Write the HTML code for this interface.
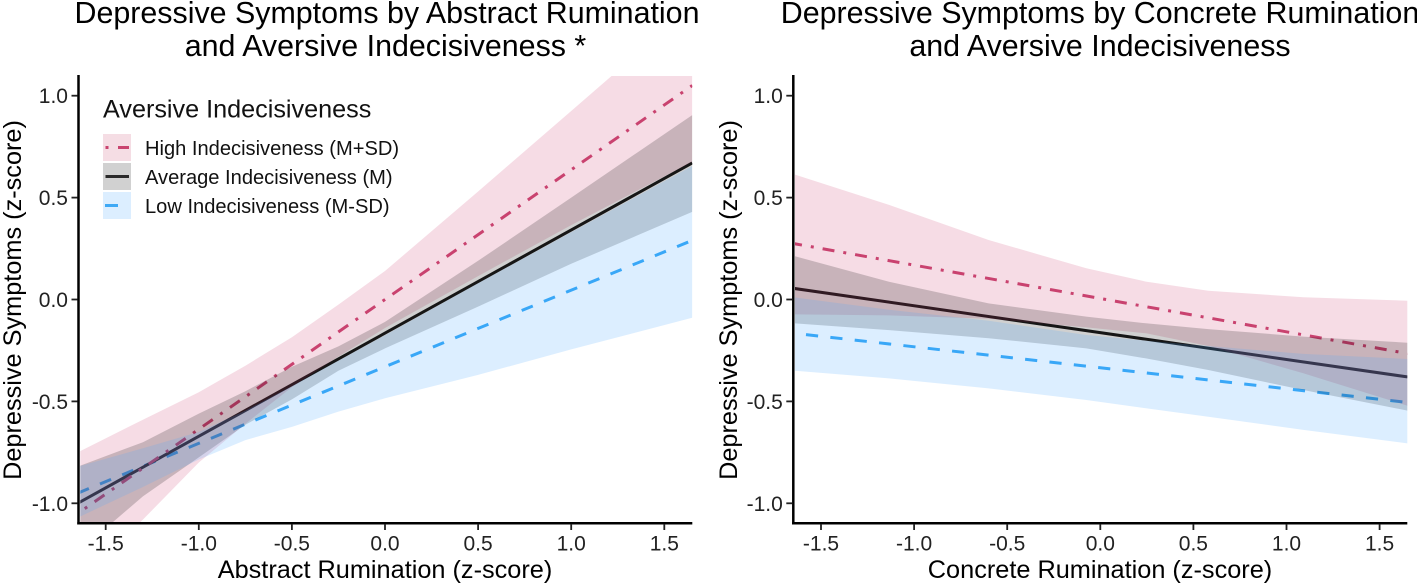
<!DOCTYPE html>
<html>
<head>
<meta charset="utf-8">
<title>Depressive Symptoms by Rumination and Aversive Indecisiveness</title>
<style>
html,body{margin:0;padding:0;background:#fff;width:1417px;height:585px;overflow:hidden}
svg{display:block}
text{font-family:"Liberation Sans",Arial,sans-serif}
.title{font-size:30.4px;fill:#000;text-anchor:middle}
.axt{font-size:25.3px;fill:#000;text-anchor:middle}
.tick{font-size:21px;fill:#222}
.leg{font-size:20.1px;fill:#111}
</style>
</head>
<body>
<svg id="figure" width="1417" height="585" viewBox="0 0 1417 585" xmlns="http://www.w3.org/2000/svg">
  <defs>
    <clipPath id="clip-left"><rect x="80.3" y="76" width="612" height="447"/></clipPath>
    <clipPath id="clip-right"><rect x="795" y="76" width="612.3" height="447"/></clipPath>
  </defs>
  <text class="title" x="387" y="23">Depressive Symptoms by Abstract Rumination</text>
  <text class="title" x="385.5" y="56">and Aversive Indecisiveness *</text>
  <text class="title" x="1100" y="23">Depressive Symptoms by Concrete Rumination</text>
  <text class="title" x="1100" y="56">and Aversive Indecisiveness</text>
  <g id="left-panel"></g>
  <g id="right-panel"></g>
  <text class="axt" x="385" y="578">Abstract Rumination (z-score)</text>
  <text class="axt" x="1100" y="578">Concrete Rumination (z-score)</text>
  <text class="axt" transform="translate(21,300) rotate(-90)">Depressive Symptoms (z-score)</text>
  <text class="axt" transform="translate(737,300) rotate(-90)">Depressive Symptoms (z-score)</text>
  <g>
    <text x="103" y="117.5" style="font-size:25.2px;fill:#111">Aversive Indecisiveness</text>
    <rect x="103" y="134" width="28" height="27" fill="#f5dde4"/>
    <rect x="103" y="163" width="28" height="27" fill="#d1d1d1"/>
    <rect x="103" y="192" width="28" height="27" fill="#dceeff"/>
    <line x1="105.5" x2="108.5" y1="147.5" y2="147.5" stroke="#c9446f" stroke-width="3"/>
    <line x1="118" x2="129" y1="147.5" y2="147.5" stroke="#c9446f" stroke-width="3"/>
    <line x1="105.5" x2="129" y1="176.5" y2="176.5" stroke="#2a2a2a" stroke-width="3"/>
    <line x1="105" x2="118" y1="205.5" y2="205.5" stroke="#3fa9f5" stroke-width="3"/>
    <text class="leg" x="145" y="155">High Indecisiveness (M+SD)</text>
    <text class="leg" x="145" y="184">Average Indecisiveness (M)</text>
    <text class="leg" x="145" y="213">Low Indecisiveness (M-SD)</text>
  </g>
</svg>
<script>
// Shared axis values
const xTicks = ["-1.5", "-1.0", "-0.5", "0.0", "0.5", "1.0", "1.5"];
const yTicks = ["-1.0", "-0.5", "0.0", "0.5", "1.0"];
const lineX = [-1.65, 1.65];

// Abstract rumination panel
const abstractBandX = [-1.65, -1.3, -1, -0.75, -0.5, -0.25, 0, 0.5, 1, 1.65];
const abstractHighLine = [-1.05, 1.05];
const abstractAverageLine = [-1.0, 0.67];
const abstractLowLine = [-0.95, 0.29];
const abstractHighUpper = [-0.75, -0.59, -0.455, -0.325, -0.185, -0.025, 0.14, 0.53, 0.925, 1.44];
const abstractHighLower = [-1.38, -1.08, -0.80, -0.61, -0.43, -0.28, -0.14, 0.115, 0.365, 0.675];
const abstractAverageUpper = [-0.82, -0.70, -0.56, -0.45, -0.33, -0.23, -0.11, 0.19, 0.50, 0.905];
const abstractAverageLower = [-1.24, -0.966, -0.775, -0.615, -0.49, -0.35, -0.24, -0.035, 0.175, 0.43];
const abstractLowUpper = [-0.82, -0.73, -0.65, -0.545, -0.425, -0.30, -0.175, 0.08, 0.33, 0.655];
const abstractLowLower = [-1.07, -0.92, -0.785, -0.69, -0.625, -0.55, -0.485, -0.37, -0.245, -0.09];

// Concrete rumination panel
const concreteBandX = [-1.65, -1.135, -0.6, -0.075, 0.245, 0.58, 1.09, 1.65];
const concreteHighLine = [0.275, -0.265];
const concreteAverageLine = [0.055, -0.38];
const concreteLowLine = [-0.165, -0.505];
const concreteHighUpper = [0.616, 0.464, 0.292, 0.153, 0.088, 0.043, 0.011, -0.006];
const concreteHighLower = [-0.073, -0.078, -0.094, -0.137, -0.166, -0.228, -0.362, -0.521];
const concreteAverageUpper = [0.215, 0.087, -0.019, -0.084, -0.117, -0.145, -0.182, -0.212];
const concreteAverageLower = [-0.117, -0.150, -0.19, -0.24, -0.289, -0.346, -0.444, -0.545];
const concreteLowUpper = [0.011, -0.05, -0.104, -0.174, -0.202, -0.228, -0.267, -0.292];
const concreteLowLower = [-0.349, -0.387, -0.436, -0.493, -0.534, -0.575, -0.64, -0.706];

const NS = 'http://www.w3.org/2000/svg';
const yScale = v => 299.5 - v * 203.8;

function drawPanel(root, x0, axisX, axisEnd, clipId, prefix, bandX, lines, bands) {
  const xScale = v => x0 + v * 186.2;

  const lineLayer = document.createElementNS(NS, 'g');
  lineLayer.setAttribute('clip-path', 'url(#' + clipId + ')');
  
  
  root.appendChild(lineLayer);
  lines.forEach(s => {
    const el = document.createElementNS(NS, 'line');
    el.setAttribute('x1', xScale(lineX[0]));
    el.setAttribute('x2', xScale(lineX[1]));
    el.setAttribute('y1', yScale(s.values[0]));
    el.setAttribute('y2', yScale(s.values[1]));
    el.setAttribute('stroke', s.color);
    el.setAttribute('stroke-width', '3');
    if (s.dash) {
      el.setAttribute('stroke-dasharray', s.dash);
      el.setAttribute('stroke-dashoffset', s.offset);
    }
    
    
    lineLayer.appendChild(el);
  });

  const bandLayer = document.createElementNS(NS, 'g');
  bandLayer.setAttribute('clip-path', 'url(#' + clipId + ')');
  
  
  root.appendChild(bandLayer);
  bands.forEach(b => {
    const upper = bandX.map((x, i) => xScale(x).toFixed(1) + ',' + yScale(b.upper[i]).toFixed(1));
    const lower = bandX.map((x, i) => xScale(x).toFixed(1) + ',' + yScale(b.lower[i]).toFixed(1)).reverse();
    const el = document.createElementNS(NS, 'polygon');
    el.setAttribute('points', upper.concat(lower).join(' '));
    el.setAttribute('fill', b.fill);
    
    
    bandLayer.appendChild(el);
  });

  const axisY = document.createElementNS(NS, 'line');
  axisY.setAttribute('x1', axisX);
  axisY.setAttribute('x2', axisX);
  axisY.setAttribute('y1', 75);
  axisY.setAttribute('y2', 524.5);
  axisY.setAttribute('stroke', '#000');
  axisY.setAttribute('stroke-width', '2.5');
  
  
  root.appendChild(axisY);

  const axisB = document.createElementNS(NS, 'line');
  axisB.setAttribute('x1', axisX - 1.2);
  axisB.setAttribute('x2', axisEnd);
  axisB.setAttribute('y1', 523.3);
  axisB.setAttribute('y2', 523.3);
  axisB.setAttribute('stroke', '#000');
  axisB.setAttribute('stroke-width', '2.5');
  
  
  root.appendChild(axisB);

  xTicks.forEach(t => {
    const px = xScale(parseFloat(t));
    const mark = document.createElementNS(NS, 'line');
    mark.setAttribute('x1', px);
    mark.setAttribute('x2', px);
    mark.setAttribute('y1', 524);
    mark.setAttribute('y2', 530);
    mark.setAttribute('stroke', '#222');
    mark.setAttribute('stroke-width', '1.8');
    
    
    root.appendChild(mark);
    const label = document.createElementNS(NS, 'text');
    label.setAttribute('class', 'tick');
    label.setAttribute('x', px);
    label.setAttribute('y', 550.5);
    label.setAttribute('text-anchor', 'middle');
    
    
    label.textContent = t;
    root.appendChild(label);
  });

  yTicks.forEach(t => {
    const py = yScale(parseFloat(t));
    const mark = document.createElementNS(NS, 'line');
    mark.setAttribute('x1', axisX - 7);
    mark.setAttribute('x2', axisX - 1);
    mark.setAttribute('y1', py);
    mark.setAttribute('y2', py);
    mark.setAttribute('stroke', '#222');
    mark.setAttribute('stroke-width', '1.8');
    
    
    root.appendChild(mark);
    const label = document.createElementNS(NS, 'text');
    label.setAttribute('class', 'tick');
    label.setAttribute('x', axisX - 10.5);
    label.setAttribute('y', py + 7.5);
    label.setAttribute('text-anchor', 'end');
    
    
    label.textContent = t;
    root.appendChild(label);
  });
}

const PINK_LINE = '#c8446f', GREY_LINE = '#1c1c1c', BLUE_LINE = '#34a7f6';
const PINK_FILL = 'rgba(204,60,110,0.18)', GREY_FILL = 'rgba(0,0,0,0.185)', BLUE_FILL = 'rgba(80,170,255,0.2)';

drawPanel(document.getElementById('left-panel'), 385, 78.5, 692.3, 'clip-left', 'abstract', abstractBandX,
  [
    {name: 'low', values: abstractLowLine, color: BLUE_LINE, dash: '12 12', offset: 0},
    {name: 'average', values: abstractAverageLine, color: GREY_LINE},
    {name: 'high', values: abstractHighLine, color: PINK_LINE, dash: '12 9 3 9', offset: 12.5}
  ],
  [
    {name: 'high', upper: abstractHighUpper, lower: abstractHighLower, fill: PINK_FILL},
    {name: 'average', upper: abstractAverageUpper, lower: abstractAverageLower, fill: GREY_FILL},
    {name: 'low', upper: abstractLowUpper, lower: abstractLowLower, fill: BLUE_FILL}
  ]);

drawPanel(document.getElementById('right-panel'), 1100.3, 793.3, 1407.3, 'clip-right', 'concrete', concreteBandX,
  [
    {name: 'low', values: concreteLowLine, color: BLUE_LINE, dash: '12.2 12.3', offset: 11.5},
    {name: 'average', values: concreteAverageLine, color: GREY_LINE},
    {name: 'high', values: concreteHighLine, color: PINK_LINE, dash: '12 9 3 9', offset: 3}
  ],
  [
    {name: 'high', upper: concreteHighUpper, lower: concreteHighLower, fill: PINK_FILL},
    {name: 'average', upper: concreteAverageUpper, lower: concreteAverageLower, fill: GREY_FILL},
    {name: 'low', upper: concreteLowUpper, lower: concreteLowLower, fill: BLUE_FILL}
  ]);
</script>
</body>
</html>
